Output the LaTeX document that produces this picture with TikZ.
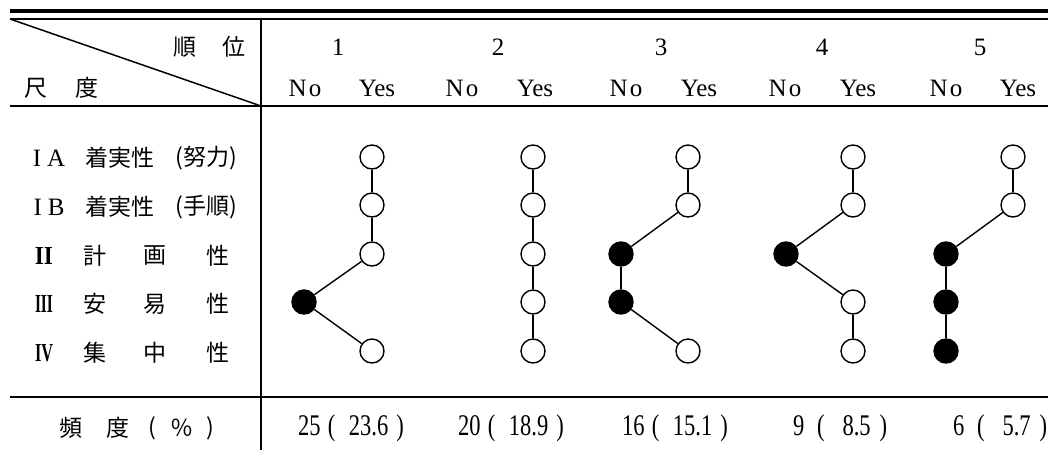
\documentclass[tikz,border=0pt]{standalone}
\usepackage{fontspec}
\setmainfont{Liberation Serif}
\newfontfamily\jp{Noto Sans CJK JP}
\newcommand\romnum[1]{\resizebox{18pt}{17pt}{\bfseries #1}}
\newcommand\freqcell[5]{\scalebox{0.9}[1.2]{#1\hspace{#3}(\hspace{#4}#2\hspace{#5})}}
\begin{document}
\begin{tikzpicture}[x=1pt,y=-1pt,
  lat/.style={font=\fontsize{25}{28}\selectfont, inner sep=0pt},
  jpt/.style={font=\jp\fontsize{23}{26}\selectfont, inner sep=0pt},
  frq/.style={font=\fontsize{25}{28}\selectfont, inner sep=0pt, anchor=west},
  yesdot/.style={circle, draw, line width=1.4pt, minimum size=24pt, inner sep=0pt, fill=white},
  nodot/.style={circle, draw, fill=black, line width=1.4pt, minimum size=24pt, inner sep=0pt},
  link/.style={line width=1.4pt},
  thinrule/.style={line width=1.5pt},
  thickrule/.style={line width=4pt}]
\useasboundingbox (0,0) rectangle (1048,450);

% table rules
\coordinate (tkl) at (10,11);   \coordinate (tkr) at (1048,11);
\coordinate (tnl) at (10,19);   \coordinate (tnr) at (1048,19);
\coordinate (hbl) at (10,106);  \coordinate (hbr) at (1048,106);
\coordinate (bbl) at (10,397);  \coordinate (bbr) at (1048,397);
\coordinate (vtop) at (261,19); \coordinate (vbot) at (261,450);
\coordinate (dgend) at (261,106);
\draw[thickrule] (tkl) -- (tkr);
\draw[thinrule] (tnl) -- (tnr);
\draw[thinrule] (hbl) -- (hbr);
\draw[thinrule] (bbl) -- (bbr);
\draw[thinrule] (vtop) -- (vbot);
\draw[thinrule] (tnl) -- (dgend);

% corner heading
\node[jpt] (hjun) at (185,47) {順};
\node[jpt] (hi)   at (234,47) {位};
\node[jpt] (hsh)  at (36,88)  {尺};
\node[jpt] (hdo)  at (87,88)  {度};

% rank headings
\foreach \k/\xn/\xno/\xyes in {1/338/305/377, 2/498/462/535, 3/661/626/699, 4/822/785/858, 5/980/946/1018}{
  \node[lat] (rank\k) at (\xn,47) {\k};
  \node[lat] (no\k)   at (\xno,88) {N\kern2pt o};
  \node[lat] (yes\k)  at (\xyes,88) {Yes};
}

% scale labels
\node[lat] (la1) at (49,158) {I\hspace{6pt}A};
\node[jpt] (lb1) at (120,158) {着実性};
\node[jpt] (lc1) at (206,158) {(努力)};
\node[lat] (la2) at (49,207) {I\hspace{6pt}B};
\node[jpt] (lb2) at (120,207) {着実性};
\node[jpt] (lc2) at (206,207) {(手順)};
\node[lat] (la3) at (44,256) {\romnum{II}};
\node[jpt] (lb3) at (95,256)  {計};
\node[jpt] (lc3) at (155,256) {画};
\node[jpt] (ld3) at (218,256) {性};
\node[lat] (la4) at (44,304) {\romnum{III}};
\node[jpt] (lb4) at (95,304)  {安};
\node[jpt] (lc4) at (155,304) {易};
\node[jpt] (ld4) at (218,304) {性};
\node[lat] (la5) at (44,353) {\romnum{IV}};
\node[jpt] (lb5) at (95,353)  {集};
\node[jpt] (lc5) at (155,353) {中};
\node[jpt] (ld5) at (218,353) {性};

% frequency row
\node[jpt] (fa) at (71,428)  {頻};
\node[jpt] (fb) at (118,428) {度};
\node[jpt] (fc) at (152,428) {(};
\node[jpt] (fd) at (182,428) {％};
\node[jpt] (fe) at (210,428) {)};
\node[frq] (f1) at (298,428) {\freqcell{25}{23.6}{8pt}{15pt}{9pt}};
\node[frq] (f2) at (458,428) {\freqcell{20}{18.9}{8pt}{15pt}{9pt}};
\node[frq] (f3) at (622,428) {\freqcell{16}{15.1}{8pt}{15pt}{9pt}};
\node[frq] (f4) at (793,428) {\freqcell{9}{8.5}{14pt}{20pt}{10pt}};
\node[frq] (f5) at (953,428) {\freqcell{6}{5.7}{14pt}{20pt}{10pt}};

% response profiles
\node[yesdot] (c1-1) at (372,157) {};
\node[yesdot] (c1-2) at (372,205) {};
\node[yesdot] (c1-3) at (372,254) {};
\node[nodot]  (c1-4) at (304,302) {};
\node[yesdot] (c1-5) at (372,351) {};

\node[yesdot] (c2-1) at (533,157) {};
\node[yesdot] (c2-2) at (533,205) {};
\node[yesdot] (c2-3) at (533,254) {};
\node[yesdot] (c2-4) at (533,302) {};
\node[yesdot] (c2-5) at (533,351) {};

\node[yesdot] (c3-1) at (688,157) {};
\node[yesdot] (c3-2) at (688,205) {};
\node[nodot]  (c3-3) at (621,254) {};
\node[nodot]  (c3-4) at (621,302) {};
\node[yesdot] (c3-5) at (688,351) {};

\node[yesdot] (c4-1) at (853,157) {};
\node[yesdot] (c4-2) at (853,205) {};
\node[nodot]  (c4-3) at (786,254) {};
\node[yesdot] (c4-4) at (853,302) {};
\node[yesdot] (c4-5) at (853,351) {};

\node[yesdot] (c5-1) at (1013,157) {};
\node[yesdot] (c5-2) at (1013,205) {};
\node[nodot]  (c5-3) at (946,254) {};
\node[nodot]  (c5-4) at (946,302) {};
\node[nodot]  (c5-5) at (946,351) {};

\foreach \c in {1,...,5}{
  \foreach \r/\n in {1/2,2/3,3/4,4/5}{
    \draw[link] (c\c-\r) -- (c\c-\n);
  }
}
\end{tikzpicture}
\end{document}
